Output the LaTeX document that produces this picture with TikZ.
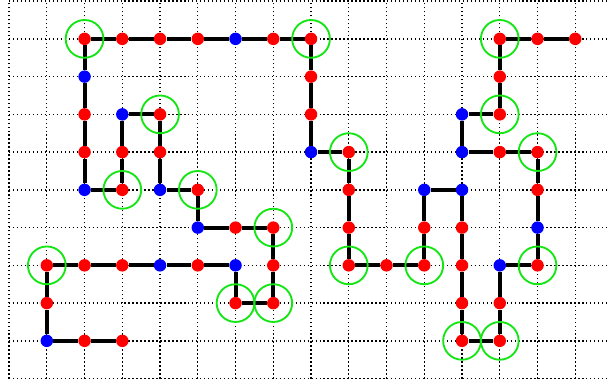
\documentclass[tikz,border=0pt]{standalone}
\usepackage{tikz}
\usetikzlibrary{arrows.meta}
\usepackage{xcolor}
\definecolor{HydroRed}{HTML}{FF0000}
\definecolor{PolarBlue}{HTML}{0000FF}
\definecolor{ContactGreen}{HTML}{14E614}

\begin{document}
\begin{tikzpicture}[
  residue/.style={
    circle,
    inner sep=0pt,
    minimum size=0.33cm
  },
  hres/.style={residue,fill=HydroRed},
  pres/.style={residue,fill=PolarBlue},
  ring/.style={
    circle,
    draw=ContactGreen,
    line width=1.4pt,
    inner sep=0pt,
    minimum size=1.0cm
  },
  bond/.style={draw=black,line width=3pt},
  gridline/.style={draw=black,line width=1pt,dash pattern=on 1pt off 2pt}
]

\clip (-0.24,-0.17) rectangle (15.92,10.03);

\draw[gridline] (0,0) grid (16,10);

% chain of residues
\foreach \x/\y/\k [count=\n] in {
  3/1/h, 2/1/h, 1/1/p, 1/2/h, 1/3/h, 2/3/h, 3/3/h, 4/3/p, 5/3/h, 6/3/p,
  6/2/h, 7/2/h, 7/3/h, 7/4/h, 6/4/h, 5/4/p, 5/5/h, 4/5/p, 4/6/h, 4/7/h,
  3/7/p, 3/6/h, 3/5/h, 2/5/p, 2/6/h, 2/7/h, 2/8/p, 2/9/h, 3/9/h, 4/9/h,
  5/9/h, 6/9/p, 7/9/h, 8/9/h, 8/8/h, 8/7/h, 8/6/p, 9/6/h, 9/5/h, 9/4/h,
  9/3/h, 10/3/h, 11/3/h, 11/4/h, 11/5/p, 12/5/p, 12/4/h, 12/3/h, 12/2/h, 12/1/h,
  13/1/h, 13/2/h, 13/3/p, 14/3/h, 14/4/p, 14/5/h, 14/6/h, 13/6/h, 12/6/p, 12/7/p,
  13/7/h, 13/8/h, 13/9/h, 14/9/h, 15/9/h}
  \node[\k res] (r\n) at (\x,\y) {};

\foreach \n [evaluate=\n as \m using int(\n+1)] in {1,...,64}
  \draw[bond] (r\n) -- (r\m);

% contacts
\foreach \n in {5,11,12,14,17,20,23,28,34,38,41,43,50,51,54,57,61,63}
  \node[ring] at (r\n) {};
\end{tikzpicture}
\end{document}
